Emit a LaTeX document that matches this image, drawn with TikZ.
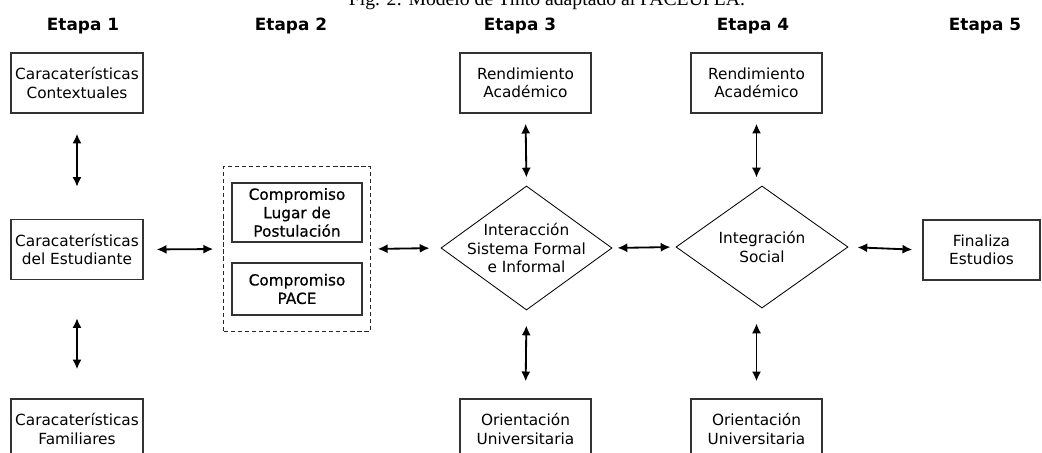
\documentclass[tikz,border=0pt]{standalone}
\usepackage{fontspec}
\setmainfont{DejaVu Sans}
\newfontfamily\capfont{Liberation Serif}
\newfontfamily\medfont[FakeBold=0.6]{DejaVu Sans}
\usetikzlibrary{shapes.geometric}
\usetikzlibrary{arrows.meta}
\usetikzlibrary{fit}
\usetikzlibrary{positioning}

\begin{document}
\begin{tikzpicture}[
  x=0.025cm, y=-0.025cm,
  every node/.style={align=center, font=\fontsize{10.9}{13}\selectfont},
  stage/.style={anchor=base, font=\bfseries\fontsize{12}{14}\selectfont},
  box/.style={draw=black!80, line width=0.9pt, rectangle, minimum width=3.3cm, minimum height=1.5cm, inner sep=0},
  rombo/.style={draw, diamond, aspect=1.38, inner sep=-4pt, line width=0.6pt},
  grupo/.style={draw=black!85, dash pattern=on 3pt off 2pt, line width=0.7pt},
  ar/.style={<->,>={Latex[length=7pt,width=6.5pt]}, line width=1.3pt},
  ]
    \clip (0,0) rectangle (1042,453);
    % titulo (cortado arriba)
    \node[anchor=base, font=\capfont\fontsize{14}{16}\selectfont](titulo) at (547,6) {Fig. 2: Modelo de Tinto adaptado al PACEUPLA.};
    % etapas
    \node[stage](e1) at (83,31) {Etapa 1};
    \node[stage](e2) at (291,31) {Etapa 2};
    \node[stage](e3) at (520,31) {Etapa 3};
    \node[stage](e4) at (753,31) {Etapa 4};
    \node[stage](e5) at (985,31) {Etapa 5};
    % etapa 1
    \node[box](cc) at (77,83) {Caracaterísticas\\Contextuales};
    \node[box](ce) at (77,249.5) {Caracaterísticas\\del Estudiante};
    \node[box](cf) at (77,429) {Caracaterísticas\\Familiares};
    % etapa 2
    \node[box, minimum width=3.25cm, minimum height=1.475cm, font=\medfont\fontsize{10.9}{13.1}\selectfont](cl) at (297,212.5) {Compromiso\\Lugar de\\Postulación};
    \node[box, minimum width=3.25cm, minimum height=1.3cm, font=\medfont\fontsize{10.9}{13.1}\selectfont](cp) at (297,289) {Compromiso\\PACE};
    \node[grupo, fit=(cl)(cp), inner xsep=0.19cm, inner ysep=0.4cm](g2) {};
    % etapa 3
    \node[box, minimum width=3.275cm](ra3) at (525.5,83) {Rendimiento\\Académico};
    \node[rombo, minimum width=4.275cm, minimum height=3.1cm](d3) at (526.5,248) {Interacción\\Sistema Formal\\e Informal};
    \node[box, minimum width=3.275cm](ou3) at (525.5,429) {Orientación\\Universitaria};
    % etapa 4
    \node[box, minimum width=3.275cm](ra4) at (756.5,83) {Rendimiento\\Académico};
    \node[rombo, minimum width=4.3cm, minimum height=3.05cm](d4) at (762,247) {Integración\\Social};
    \node[box, minimum width=3.275cm](ou4) at (756.5,429) {Orientación\\Universitaria};
    % etapa 5
    \node[box, minimum width=2.925cm](fin) at (981.5,250) {Finaliza\\Estudios};
    % flechas
    \draw[ar, shorten <=0.5cm, shorten >=0.8cm](cc) -- (ce);
    \draw[ar, shorten <=0.95cm, shorten >=0.725cm](ce) -- (cf);
    \draw[ar, shorten <=0.325cm, shorten >=0.25cm](ce.east) -- (g2.west);
    \draw[ar, shorten <=0.175cm, shorten >=0.275cm](g2.east) -- (d3.west);
    \draw[ar, shorten <=0.125cm, shorten >=0.125cm](d3.east) -- (d4.west);
    \draw[ar, shorten <=0.225cm, shorten >=0.25cm](d4.east) -- (fin.west);
    \draw[ar, shorten <=0.25cm, shorten >=0.2cm](ra3.south) -- (d3.north);
    \draw[ar, shorten <=0.375cm, shorten >=0.425cm](d3.south) -- (ou3.north);
    \draw[ar, shorten <=0.25cm, shorten >=0.2cm](ra4.south) -- (ra4.south |- d4.north);
    \draw[ar, shorten <=0.375cm, shorten >=0.425cm](ou4.north |- d4.south) -- (ou4.north);
\end{tikzpicture}
\end{document}
